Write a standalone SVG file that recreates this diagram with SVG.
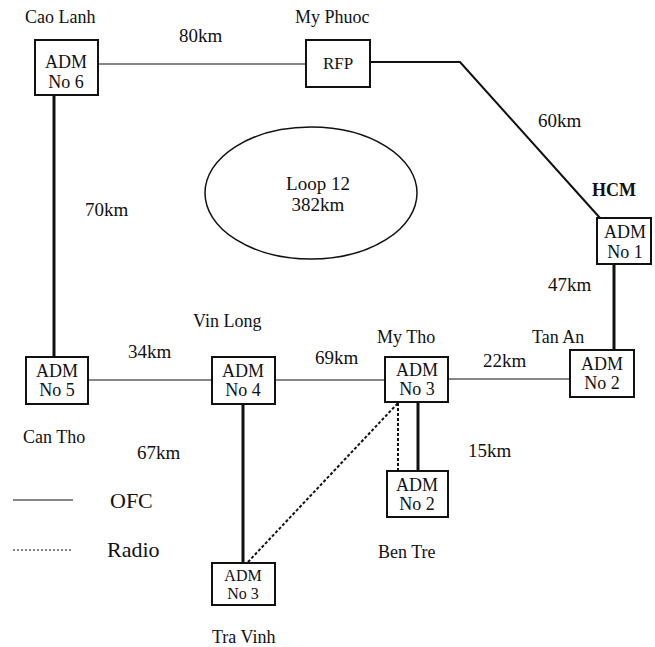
<svg xmlns="http://www.w3.org/2000/svg" width="655" height="647" viewBox="0 0 655 647">
<style>
text{font-family:"Liberation Serif","Times New Roman",serif;fill:#111;}
.lbl{font-size:18px;}
.km{font-size:19px;}
.box{fill:#fff;stroke:#111;stroke-width:2;}
.bt{font-size:18px;text-anchor:middle;}
.thin{stroke:#111;stroke-width:1.2;fill:none;}
.thick{stroke:#111;stroke-width:3;fill:none;}
.mid{stroke:#111;stroke-width:2;fill:none;}
.radio{stroke:#111;stroke-width:2;stroke-dasharray:3 2;fill:none;}
.leg{font-size:22px;}
</style>
<rect width="655" height="647" fill="#fff"/>
<g id="connectors">
<line class="thin" x1="98" y1="64" x2="306" y2="64"/>
<polyline class="mid" points="370,62 460,62 600,218"/>
<line class="thick" x1="54" y1="95" x2="54" y2="357"/>
<line class="thick" x1="614" y1="264" x2="614" y2="350"/>
<line class="thin" x1="88" y1="380" x2="212" y2="380"/>
<line class="thin" x1="275" y1="380" x2="385" y2="380"/>
<line class="thin" x1="448" y1="379" x2="570" y2="379"/>
<line class="thick" x1="243" y1="404" x2="243" y2="563"/>
<line class="radio" x1="248" y1="562" x2="398" y2="403"/>
<line class="radio" x1="398" y1="403" x2="398" y2="471"/>
<line class="thick" x1="418" y1="402" x2="418" y2="471"/>
</g>
<g id="loop">
<ellipse cx="311" cy="193" rx="106" ry="66" fill="none" stroke="#111" stroke-width="1.5"/>
<text x="318" y="190" style="font-size:19px;text-anchor:middle">Loop 12</text>
<text x="318" y="211" style="font-size:19px;text-anchor:middle">382km</text>
</g>
<g id="adm6">
<rect class="box" x="35" y="40" width="63" height="55"/>
<text class="bt" x="66" y="68">ADM</text>
<text class="bt" x="66" y="88">No 6</text>
<text class="lbl" x="25" y="23">Cao Lanh</text>
</g>
<g id="rfp">
<rect class="box" x="306" y="40" width="64" height="47"/>
<text class="bt" x="338" y="69" style="font-size:17px">RFP</text>
<text class="lbl" x="295" y="23">My Phuoc</text>
</g>
<g id="adm1">
<rect class="box" x="597" y="218" width="54" height="46"/>
<text class="bt" x="625" y="238">ADM</text>
<text class="bt" x="625" y="258">No 1</text>
<text class="lbl" x="592" y="196" style="font-weight:bold">HCM</text>
</g>
<g id="adm2">
<rect class="box" x="570" y="350" width="64" height="47"/>
<text class="bt" x="602" y="370">ADM</text>
<text class="bt" x="602" y="389">No 2</text>
<text class="lbl" x="532" y="343">Tan  An</text>
</g>
<g id="adm3-mytho">
<rect class="box" x="385" y="357" width="63" height="45"/>
<text class="bt" x="417" y="376">ADM</text>
<text class="bt" x="417" y="395">No 3</text>
<text class="lbl" x="377" y="343">My Tho</text>
</g>
<g id="adm4">
<rect class="box" x="212" y="357" width="63" height="47"/>
<text class="bt" x="243" y="377">ADM</text>
<text class="bt" x="243" y="396">No 4</text>
<text class="lbl" x="193" y="327">Vin Long</text>
</g>
<g id="adm5">
<rect class="box" x="26" y="357" width="62" height="47"/>
<text class="bt" x="57" y="377">ADM</text>
<text class="bt" x="57" y="396">No 5</text>
<text class="lbl" x="23" y="443">Can Tho</text>
</g>
<g id="adm2-bentre">
<rect class="box" x="387" y="471" width="61" height="46"/>
<text class="bt" x="417" y="491">ADM</text>
<text class="bt" x="417" y="510">No 2</text>
<text class="lbl" x="378" y="558">Ben Tre</text>
</g>
<g id="adm3-travinh">
<rect class="box" x="212" y="563" width="63" height="42"/>
<text class="bt" x="243" y="581" style="font-size:16px">ADM</text>
<text class="bt" x="243" y="599" style="font-size:16px">No 3</text>
<text class="lbl" x="212" y="643">Tra Vinh</text>
</g>
<g id="labels">
<text class="km" x="179" y="42">80km</text>
<text class="km" x="538" y="127">60km</text>
<text class="km" x="85" y="216">70km</text>
<text class="km" x="548" y="291">47km</text>
<text class="km" x="128" y="358">34km</text>
<text class="km" x="315" y="364">69km</text>
<text class="km" x="483" y="367">22km</text>
<text class="km" x="468" y="457">15km</text>
<text class="km" x="137" y="459">67km</text>
</g>
<g id="legend">
<line class="thin" x1="13" y1="500" x2="73" y2="500"/>
<text class="leg" x="110" y="508">OFC</text>
<line x1="13" y1="550" x2="73" y2="550" stroke="#111" stroke-width="1" stroke-dasharray="2 2"/>
<text class="leg" x="107" y="557">Radio</text>
</g>
</svg>
